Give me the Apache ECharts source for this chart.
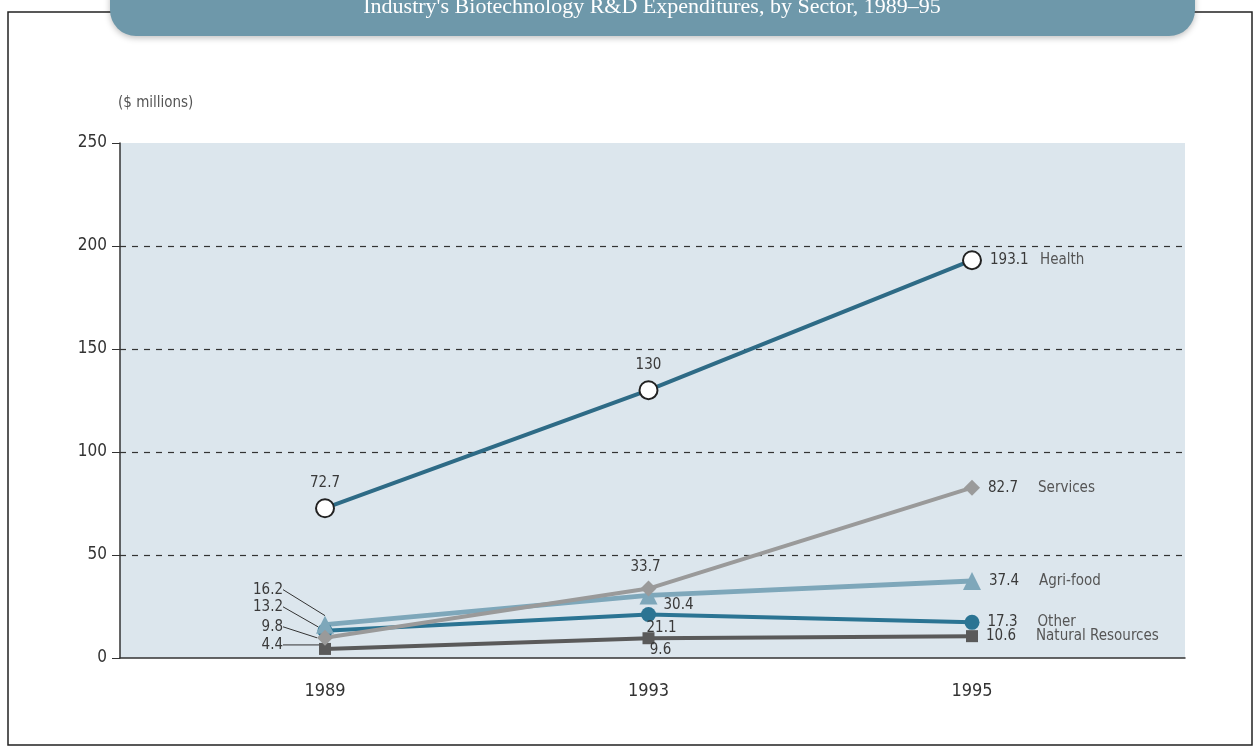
<!DOCTYPE html>
<html><head><meta charset="utf-8">
<script src="https://cdn.jsdelivr.net/npm/echarts@6/dist/echarts.min.js"></script>
<style>html,body{margin:0;padding:0;background:#fff}#c{width:1260px;height:748px}</style>
</head><body><div id="c"></div>
<script>
const years = ['1989', '1993', '1995'];
const health = [72.7, 130, 193.1];
const services = [9.8, 33.7, 82.7];
const agrifood = [16.2, 30.4, 37.4];
const other = [13.2, 21.1, 17.3];
const natural = [4.4, 9.6, 10.6];
const yTicks = [0, 50, 100, 150, 200, 250];
const title = "Industry's Biotechnology R&D Expenditures, by Sector, 1989–95";

const FONT = '"Liberation Sans Narrow","DejaVu Sans Condensed",sans-serif';
const chart = echarts.init(document.getElementById('c'));

function endLabel(name) {
  return {
    show: true, position: 'right', distance: 8,
    formatter: p => '{v|' + p.value + '}{n|' + name + '}',
    rich: {
      v: {width: 50, fontSize: 15, color: '#3a3a3a', fontFamily: FONT},
      n: {fontSize: 15, color: '#555', fontFamily: FONT}
    }
  };
}
const lblBase = {fontSize: 15, color: '#3a3a3a', fontFamily: FONT};
// offsets of the crowded 1989 labels (label centre relative to point)
const leftDy = {agri: -35, other: -24, serv: -11, nat: -4};
// nudges of the 1993 labels
const midShift = {agri: [0, 10], other: [13, -3], serv: [-3, 0], nat: [12, -4]};

function build(vals, opts) {
  return vals.map((v, i) => {
    const item = {value: v, labelLine: {show: false}};
    if (i === 2) item.label = endLabel(opts.name);
    else if (opts.mid && i === 1) item.label = Object.assign({show: true}, lblBase, opts.mid);
    else if (opts.first && i === 0) {
      item.label = Object.assign({show: true}, lblBase, opts.first);
      if (opts.leader) item.labelLine = {show: true, lineStyle: {color: '#333', width: 1}};
    }
    return item;
  });
}

function layoutFor(key) {
  return function (p) {
    if (p.dataIndex === 0) {
      const cx = p.rect.x + p.rect.width / 2, cy = p.rect.y + p.rect.height / 2;
      return {x: cx - 42, y: cy + leftDy[key], align: 'right', verticalAlign: 'middle'};
    }
    if (p.dataIndex === 1) return {dx: midShift[key][0], dy: midShift[key][1]};
    return {};
  };
}

const common = {type: 'line', xAxisIndex: 1, yAxisIndex: 1, lineStyle: {width: 4}, z: 3};

chart.setOption({
  animation: false,
  graphic: [
    {type: 'rect', shape: {x: 8, y: 12, width: 1244, height: 733}, style: {fill: 'none', stroke: '#222', lineWidth: 1.5}, z: 0},
    {type: 'rect', shape: {x: 110, y: -30, width: 1085, height: 66, r: 26}, style: {fill: '#6e98aa', shadowBlur: 6, shadowColor: 'rgba(0,0,0,0.25)', shadowOffsetY: 2}, z: 10},
    {type: 'text', x: 652, y: 7, style: {text: title, fill: '#fff', font: '22px "Liberation Serif",serif', textAlign: 'center', textVerticalAlign: 'middle'}, z: 11},
    {type: 'text', x: 118, y: 103, style: {text: '($ millions)', fill: '#555', font: '15px ' + FONT, textVerticalAlign: 'middle'}, z: 11}
  ],
  grid: [
    {left: 120, right: 75, top: 143, bottom: 90, show: true, backgroundColor: '#dce6ed', borderWidth: 0},
    {left: 325, right: 288, top: 143, bottom: 90}
  ],
  xAxis: [
    {gridIndex: 0, type: 'category', data: years, show: true, axisLine: {show: true, lineStyle: {color: '#333', width: 1.5}}, axisTick: {show: false}, axisLabel: {show: false}},
    {gridIndex: 1, type: 'category', data: years, boundaryGap: false, axisLine: {show: false}, axisTick: {show: false},
      axisLabel: {fontSize: 18, color: '#333', fontFamily: FONT, margin: 24}}
  ],
  yAxis: [
    {gridIndex: 0, type: 'value', min: 0, max: 250, interval: 50,
      axisLine: {show: true, lineStyle: {color: '#333', width: 1.5}},
      axisTick: {show: true, length: 8, lineStyle: {color: '#333'}},
      axisLabel: {fontSize: 17, color: '#333', fontFamily: FONT, margin: 13, formatter: v => yTicks.includes(v) ? String(v) : ''},
      splitLine: {show: true, showMinLine: false, showMaxLine: false, lineStyle: {color: '#333', type: [6, 6], width: 1.2}},
      splitArea: {show: false}},
    {gridIndex: 1, type: 'value', min: 0, max: 250, interval: 50, show: false, splitLine: {show: false}}
  ],
  series: [
    Object.assign({}, common, {
      name: 'Natural Resources', data: build(natural, {name: 'Natural Resources', leader: true,
        first: {position: 'left'}, mid: {position: 'bottom', distance: 2}}),
      color: '#5a5a5a', symbol: 'rect', symbolSize: 12, lineStyle: {width: 4, color: '#5a5a5a'},
      itemStyle: {color: '#5a5a5a'}, labelLayout: layoutFor('nat')
    }),
    Object.assign({}, common, {
      name: 'Other', data: build(other, {name: 'Other', leader: true,
        first: {position: 'left'}, mid: {position: 'bottom', distance: 2}}),
      color: '#2b7493', symbol: 'circle', symbolSize: 15, lineStyle: {width: 4, color: '#2b7493'},
      itemStyle: {color: '#2b7493'}, labelLayout: layoutFor('other')
    }),
    Object.assign({}, common, {
      name: 'Agri-food', data: build(agrifood, {name: 'Agri-food', leader: true,
        first: {position: 'left'}, mid: {position: 'right', distance: 6}}),
      color: '#7ea7ba', symbol: 'triangle', symbolSize: 18, lineStyle: {width: 5, color: '#7ea7ba'},
      itemStyle: {color: '#7ea7ba'}, labelLayout: layoutFor('agri')
    }),
    Object.assign({}, common, {
      name: 'Services', data: build(services, {name: 'Services', leader: true,
        first: {position: 'left'}, mid: {position: 'top', distance: 6}}),
      color: '#9a9a9a', symbol: 'diamond', symbolSize: 16, lineStyle: {width: 4, color: '#9a9a9a'},
      itemStyle: {color: '#9a9a9a'}, labelLayout: layoutFor('serv')
    }),
    Object.assign({}, common, {
      name: 'Health', data: build(health, {name: 'Health',
        first: {position: 'top', distance: 8}, mid: {position: 'top', distance: 8}}),
      color: '#2e6b86', symbol: 'circle', symbolSize: 18, lineStyle: {width: 4, color: '#2e6b86'},
      itemStyle: {color: '#fff', borderColor: '#222', borderWidth: 2}, z: 4
    })
  ]
});
</script></body></html>
